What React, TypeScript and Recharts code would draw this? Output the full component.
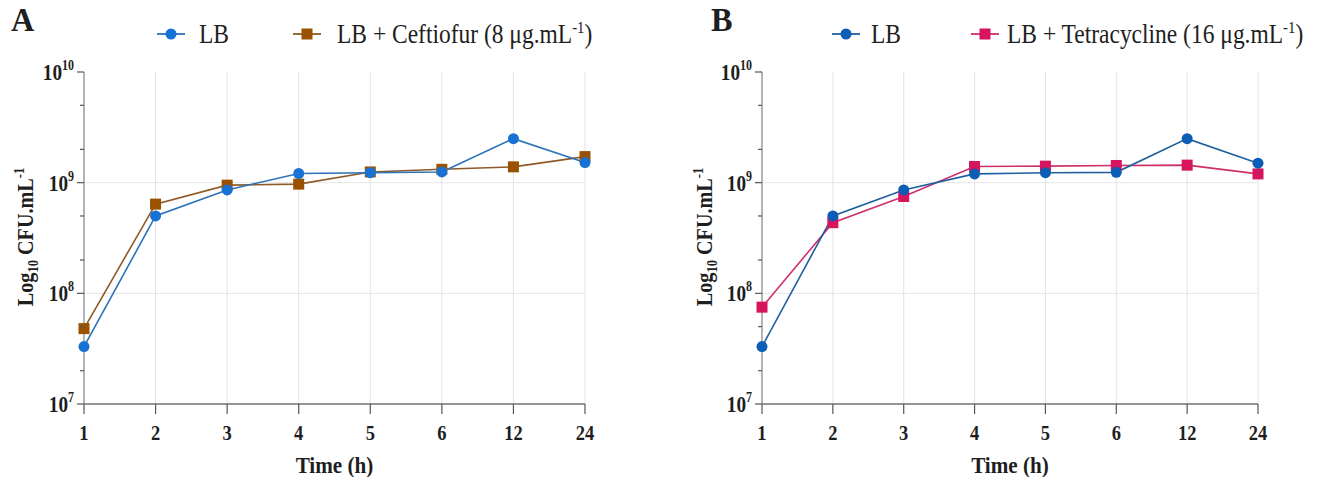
import React from 'react';
import { LineChart, Line, XAxis, YAxis, ReferenceLine } from 'recharts';

// sampling times (h), equally spaced on the axis
const times = ['1', '2', '3', '4', '5', '6', '12', '24'];

// CFU/mL
const lbA = [3.3e7, 5.0e8, 8.6e8, 1.21e9, 1.23e9, 1.25e9, 2.5e9, 1.52e9];
const ceftiofur = [4.8e7, 6.4e8, 9.5e8, 9.7e8, 1.25e9, 1.32e9, 1.39e9, 1.72e9];
const lbB = [3.3e7, 5.0e8, 8.6e8, 1.2e9, 1.23e9, 1.24e9, 2.5e9, 1.5e9];
const tetracycline = [7.5e7, 4.35e8, 7.5e8, 1.4e9, 1.41e9, 1.43e9, 1.44e9, 1.2e9];

const yTicks = [1e7, 2e7, 5e7, 1e8, 2e8, 5e8, 1e9, 2e9, 5e9, 1e10];
const yGrid = [1e8, 1e9];

const SERIF = "'Liberation Serif', 'Times New Roman', serif";
const INK = '#1e1e1e';

const dataA = times.map((t, i) => ({ time: t, lb: lbA[i], drug: ceftiofur[i] }));
const dataB = times.map((t, i) => ({ time: t, lb: lbB[i], drug: tetracycline[i] }));

// the source figure uses a narrow, tall serif; squeeze the text horizontally
function CText({ x, y, size, bold, anchor = 'start', sx = 0.86, rotate = 0, children }: any) {
  const rot = rotate ? ` rotate(${rotate})` : '';
  return (
    <text
      transform={`translate(${x}, ${y})${rot} scale(${sx}, 1)`}
      textAnchor={anchor}
      fontFamily={SERIF}
      fontWeight={bold ? 'bold' : 'normal'}
      fontSize={size}
      fill={INK}
    >
      {children}
    </text>
  );
}

function YTick(props: any) {
  const { x, y, payload } = props;
  const lg = Math.log10(payload.value);
  const exp = Math.round(lg);
  const major = Math.abs(lg - exp) < 1e-6;
  return (
    <g>
      <line x1={x - (major ? 7 : 4)} x2={x} y1={y} y2={y} stroke="#555" strokeWidth={1.2} />
      {major && (
        <CText x={x - 10} y={y + 8} size={24} bold anchor="end" sx={0.8}>
          10
          <tspan dy={-10} fontSize={15}>
            {exp}
          </tspan>
        </CText>
      )}
    </g>
  );
}

function XTick(props: any) {
  const { x, y, payload } = props;
  return (
    <CText x={x} y={y + 26} size={21.5} bold anchor="middle" sx={0.86}>
      {payload.value}
    </CText>
  );
}

const squareDot = (fill: string) => (p: any) => (
  <rect key={`sq-${p.index}`} x={p.cx - 5.5} y={p.cy - 5.5} width={11} height={11} fill={fill} />
);

interface PanelProps {
  data: { time: string; lb: number; drug: number }[];
  width: number;
  left: number;
  right: number;
  lbLine: string;
  lbDot: string;
  drugLine: string;
  drugDot: string;
}

function Panel({ data, width, left, right, lbLine, lbDot, drugLine, drugDot }: PanelProps) {
  return (
    <LineChart width={width} height={477} data={data} margin={{ top: 72, right, bottom: 33, left }}>
      {times.map((t) => (
        <ReferenceLine key={`vx-${t}`} x={t} stroke="#e2e2e2" strokeWidth={1} />
      ))}
      {yGrid.map((v) => (
        <ReferenceLine key={`hy-${v}`} y={v} stroke="#e6e6e6" strokeWidth={1} />
      ))}
      <XAxis
        dataKey="time"
        type="category"
        height={40}
        tickSize={10}
        tickMargin={0}
        tick={<XTick />}
        tickLine={{ stroke: '#555', strokeWidth: 1.2 }}
        axisLine={{ stroke: '#707070', strokeWidth: 1.5 }}
      />
      <YAxis
        type="number"
        scale="log"
        domain={[1e7, 1e10]}
        ticks={yTicks}
        interval={0}
        width={60}
        tickSize={0}
        tickMargin={0}
        tickLine={false}
        tick={<YTick />}
        axisLine={{ stroke: '#8a8a8a', strokeWidth: 1.2 }}
      />
      <Line
        dataKey="drug"
        stroke={drugLine}
        strokeWidth={1.6}
        dot={squareDot(drugDot)}
        activeDot={false}
        isAnimationActive={false}
      />
      <Line
        dataKey="lb"
        stroke={lbLine}
        strokeWidth={1.6}
        dot={{ r: 5.5, fill: lbDot, stroke: 'none', strokeWidth: 0 }}
        activeDot={false}
        isAnimationActive={false}
      />
    </LineChart>
  );
}

function LegendMark({ x, y, color, lineColor, square }: any) {
  return (
    <g>
      <line x1={x - 14} x2={x + 14} y1={y} y2={y} stroke={lineColor} strokeWidth={1.8} />
      {square ? (
        <rect x={x - 5.5} y={y - 5.5} width={11} height={11} fill={color} />
      ) : (
        <circle cx={x} cy={y} r={5.5} fill={color} />
      )}
    </g>
  );
}

function LegendText({ x, text, sup, tail }: { x: number; text: string; sup?: string; tail?: string }) {
  return (
    <CText x={x} y={43} size={27} sx={0.87}>
      {text}
      {sup && (
        <tspan dy={-10} fontSize={17}>
          {sup}
        </tspan>
      )}
      {tail && (
        <tspan dy={10} fontSize={27}>
          {tail}
        </tspan>
      )}
    </CText>
  );
}

function YLabel({ x }: { x: number }) {
  return (
    <CText x={x} y={237} size={24} bold anchor="middle" sx={0.84} rotate={-90}>
      Log
      <tspan dy={5} fontSize={15}>
        10
      </tspan>
      <tspan dy={-5}> CFU.mL</tspan>
      <tspan dy={-9} fontSize={15}>
        -1
      </tspan>
    </CText>
  );
}

export default function App() {
  return (
    <div style={{ position: 'fixed', left: 0, top: 0, width: 1325, height: 477, background: '#fff' }}>
      <div style={{ position: 'absolute', left: 0, top: 0 }}>
        <Panel
          data={dataA}
          width={660}
          left={24}
          right={75}
          lbLine="#2b72b8"
          lbDot="#1872d6"
          drugLine="#8e5a26"
          drugDot="#9a5100"
        />
      </div>
      <div style={{ position: 'absolute', left: 660, top: 0 }}>
        <Panel
          data={dataB}
          width={665}
          left={42}
          right={67}
          lbLine="#1f5f9e"
          lbDot="#0d5cb6"
          drugLine="#cf2f6c"
          drugDot="#d6155e"
        />
      </div>
      <svg
        width={1325}
        height={477}
        style={{ position: 'absolute', left: 0, top: 0, pointerEvents: 'none' }}
      >
        <CText x={11} y={31} size={34} bold sx={0.95}>
          A
        </CText>
        <CText x={711} y={31} size={34} bold sx={0.95}>
          B
        </CText>

        <LegendMark x={171} y={34} color="#1872d6" lineColor="#2b72b8" />
        <LegendText x={199} text="LB" />
        <LegendMark x={307} y={34} color="#9a5100" lineColor="#8e5a26" square />
        <LegendText x={337} text="LB + Ceftiofur (8 μg.mL" sup="-1" tail=")" />

        <LegendMark x={846} y={34} color="#0d5cb6" lineColor="#1f5f9e" />
        <LegendText x={871} text="LB" />
        <LegendMark x={985} y={34} color="#d6155e" lineColor="#cf2f6c" square />
        <LegendText x={1007} text="LB + Tetracycline (16 μg.mL" sup="-1" tail=")" />

        <YLabel x={33} />
        <YLabel x={712} />

        <CText x={334.5} y={473} size={23.5} bold anchor="middle" sx={0.9}>
          Time (h)
        </CText>
        <CText x={1010} y={473} size={23.5} bold anchor="middle" sx={0.9}>
          Time (h)
        </CText>
      </svg>
    </div>
  );
}
